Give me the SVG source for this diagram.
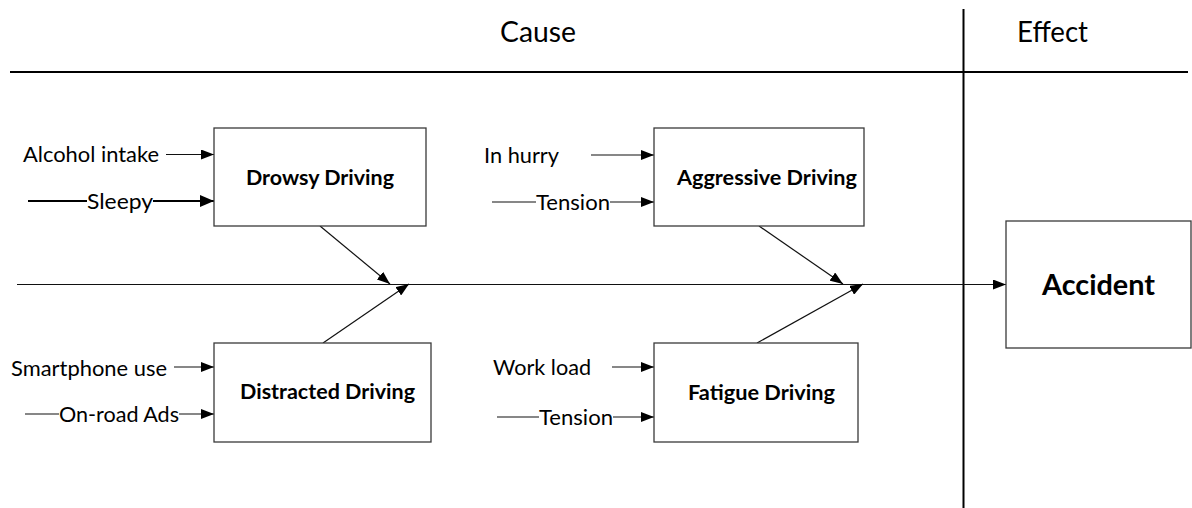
<svg xmlns="http://www.w3.org/2000/svg" width="1192" height="508" viewBox="0 0 1192 508">
<style>
text{font-family:Lato,"Liberation Sans",sans-serif;fill:#000}
.lbl{font-size:21px}
.head{font-size:29px}
.bold{font-size:21px;font-weight:bold}
.big{font-size:28px;font-weight:bold}
.box{fill:#fff;stroke:#3a3a3a;stroke-width:1.3}
.c{stroke:#111;stroke-width:1.2;fill:none}
.thick{stroke:#000;stroke-width:2.2;fill:none}
.frame{stroke:#000;stroke-width:2;fill:none}
</style>
<defs>
<marker id="ah" markerUnits="userSpaceOnUse" markerWidth="13" markerHeight="10" refX="13" refY="5" orient="auto"><path d="M0,0 L13,5 L0,10 z" fill="#000"/></marker>
<marker id="ahb" markerUnits="userSpaceOnUse" markerWidth="14" markerHeight="12" refX="14" refY="6" orient="auto"><path d="M0,0 L14,6 L0,12 z" fill="#000"/></marker>
</defs>
<g id="frame">
<line class="frame" x1="10" y1="72" x2="1188" y2="72"/>
<line class="frame" x1="963.5" y1="9" x2="963.5" y2="508"/>
<text class="head" x="500" y="42" textLength="76" lengthAdjust="spacingAndGlyphs">Cause</text>
<text class="head" x="1017" y="42" textLength="71" lengthAdjust="spacingAndGlyphs">Effect</text>
</g>
<g id="connectors">
<line class="c" x1="17" y1="284.5" x2="1006" y2="284.5" marker-end="url(#ah)"/>
<line class="c" x1="320" y1="226" x2="390" y2="284" marker-end="url(#ah)"/>
<line class="c" x1="323" y1="343" x2="409" y2="284" marker-end="url(#ah)"/>
<line class="c" x1="759" y1="226" x2="843" y2="284" marker-end="url(#ah)"/>
<line class="c" x1="757" y1="343" x2="863" y2="284" marker-end="url(#ah)"/>
<line class="c" x1="166" y1="154.5" x2="214" y2="154.5" marker-end="url(#ah)"/>
<line class="thick" x1="28" y1="201" x2="87" y2="201"/>
<line class="thick" x1="153" y1="201" x2="214" y2="201" marker-end="url(#ahb)"/>
<line class="c" x1="174" y1="367" x2="214" y2="367" marker-end="url(#ah)"/>
<line class="c" x1="25" y1="414" x2="59" y2="414"/>
<line class="c" x1="179" y1="414" x2="214" y2="414" marker-end="url(#ah)"/>
<line class="c" x1="591" y1="155" x2="654" y2="155" marker-end="url(#ah)"/>
<line class="c" x1="492" y1="202" x2="536" y2="202"/>
<line class="c" x1="610" y1="202" x2="654" y2="202" marker-end="url(#ah)"/>
<line class="c" x1="612" y1="367" x2="654" y2="367" marker-end="url(#ah)"/>
<line class="c" x1="497" y1="417" x2="539" y2="417"/>
<line class="c" x1="613" y1="417" x2="654" y2="417" marker-end="url(#ah)"/>
</g>
<g id="cause-labels">
<text class="lbl" x="23" y="161.5" textLength="136" lengthAdjust="spacingAndGlyphs">Alcohol intake</text>
<text class="lbl" x="87" y="208.5" textLength="66" lengthAdjust="spacingAndGlyphs">Sleepy</text>
<text class="lbl" x="11" y="375.5" textLength="156" lengthAdjust="spacingAndGlyphs">Smartphone use</text>
<text class="lbl" x="59" y="422" textLength="120" lengthAdjust="spacingAndGlyphs">On-road Ads</text>
<text class="lbl" x="484" y="163" textLength="75" lengthAdjust="spacingAndGlyphs">In hurry</text>
<text class="lbl" x="536" y="210" textLength="74" lengthAdjust="spacingAndGlyphs">Tension</text>
<text class="lbl" x="493" y="375" textLength="98" lengthAdjust="spacingAndGlyphs">Work load</text>
<text class="lbl" x="539" y="425" textLength="74" lengthAdjust="spacingAndGlyphs">Tension</text>
</g>
<g id="drowsy">
<rect class="box" x="214" y="128" width="212" height="98"/>
<text class="bold" x="246" y="185" textLength="148" lengthAdjust="spacingAndGlyphs">Drowsy Driving</text>
</g>
<g id="distracted">
<rect class="box" x="214" y="343" width="217" height="99"/>
<text class="bold" x="240" y="399" textLength="175" lengthAdjust="spacingAndGlyphs">Distracted Driving</text>
</g>
<g id="aggressive">
<rect class="box" x="654" y="128" width="210" height="98"/>
<text class="bold" x="677" y="185" textLength="180" lengthAdjust="spacingAndGlyphs">Aggressive Driving</text>
</g>
<g id="fatigue">
<rect class="box" x="654" y="343" width="204" height="99"/>
<text class="bold" x="688" y="400" textLength="147" lengthAdjust="spacingAndGlyphs">Fatigue Driving</text>
</g>
<g id="accident">
<rect class="box" x="1006" y="221" width="185" height="127"/>
<text class="big" x="1042" y="295" textLength="113" lengthAdjust="spacingAndGlyphs">Accident</text>
</g>
</svg>
